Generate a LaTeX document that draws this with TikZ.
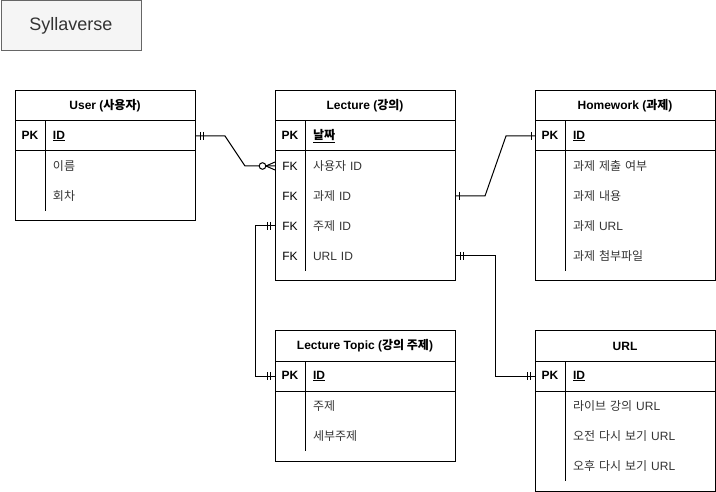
\documentclass[tikz,border=0pt]{standalone}
\usepackage{fontspec}
\setmainfont{Liberation Sans}
\newfontfamily\kr{Noto Sans CJK KR}
\usetikzlibrary{positioning}

\definecolor{boxgray}{HTML}{F5F5F5}
\definecolor{boxline}{HTML}{666666}
\definecolor{boxtext}{HTML}{333333}

\newcommand{\erow}[2]{\makebox[30pt]{\color{black}#1}\hspace{8pt}#2}

\tikzset{
  titlebox/.style={draw=boxline, fill=boxgray, text=boxtext, line width=1pt,
    minimum width=140pt, minimum height=50pt, anchor=north west,
    font=\fontsize{18}{21}\selectfont},
  head/.style={draw, line width=1pt, minimum width=180pt, minimum height=30pt,
    inner sep=0pt, outer sep=0pt, anchor=north west,
    font=\fontsize{12}{14}\selectfont\bfseries},
  row/.style={minimum height=30pt, text width=180pt, inner sep=0pt, outer sep=0pt,
    align=left, text=black!80, font=\fontsize{12}{14}\selectfont},
  pkrow/.style={row, draw, line width=1pt, text=black, font=\fontsize{12}{14}\selectfont\bfseries},
  body/.style={draw, line width=1pt, minimum width=180pt, inner sep=0pt, outer sep=0pt},
  rel/.style={line width=1pt},
}

\begin{document}
\begin{tikzpicture}[x=1pt, y=-1pt]
\useasboundingbox (0,0) rectangle (716,492);

\node[titlebox] (title) at (0.5,0.5) {Syllaverse};

% User
\node[head] (user) at (15,91) {User ({\kr 사용자})};
\node[pkrow, below=0pt of user] (user-pk) {\erow{PK}{\underline{ID}}};
\node[body, minimum height=70pt, below=0pt of user-pk] (user-body) {};
\node[row, below=0pt of user-pk] (user-1) {\erow{}{\kr 이름}};
\node[row, below=0pt of user-1] (user-2) {\erow{}{\kr 회차}};
\draw[rel] ([xshift=30pt]user-pk.north west) -- ++(0,90);

% Lecture
\node[head] (lec) at (275,91) {Lecture ({\kr 강의})};
\node[pkrow, below=0pt of lec] (lec-pk) {\erow{PK}{\underline{\kr 날짜}}};
\node[body, minimum height=130pt, below=0pt of lec-pk] (lec-body) {};
\node[row, below=0pt of lec-pk] (lec-1) {\erow{FK}{{\kr 사용자} ID}};
\node[row, below=0pt of lec-1] (lec-2) {\erow{FK}{{\kr 과제} ID}};
\node[row, below=0pt of lec-2] (lec-3) {\erow{FK}{{\kr 주제} ID}};
\node[row, below=0pt of lec-3] (lec-4) {\erow{FK}{URL ID}};
\draw[rel] ([xshift=30pt]lec-pk.north west) -- ++(0,150);

% Homework
\node[head] (hw) at (535,91) {Homework ({\kr 과제})};
\node[pkrow, below=0pt of hw] (hw-pk) {\erow{PK}{\underline{ID}}};
\node[body, minimum height=130pt, below=0pt of hw-pk] (hw-body) {};
\node[row, below=0pt of hw-pk] (hw-1) {\erow{}{\kr 과제 제출 여부}};
\node[row, below=0pt of hw-1] (hw-2) {\erow{}{\kr 과제 내용}};
\node[row, below=0pt of hw-2] (hw-3) {\erow{}{{\kr 과제} URL}};
\node[row, below=0pt of hw-3] (hw-4) {\erow{}{\kr 과제 첨부파일}};
\draw[rel] ([xshift=30pt]hw-pk.north west) -- ++(0,150);

% Lecture Topic
\node[head] (top) at (275,331) {Lecture Topic ({\kr 강의 주제})};
\node[pkrow, below=0pt of top] (top-pk) {\erow{PK}{\underline{ID}}};
\node[body, minimum height=70pt, below=0pt of top-pk] (top-body) {};
\node[row, below=0pt of top-pk] (top-1) {\erow{}{\kr 주제}};
\node[row, below=0pt of top-1] (top-2) {\erow{}{\kr 세부주제}};
\draw[rel] ([xshift=30pt]top-pk.north west) -- ++(0,90);

% URL
\node[head] (url) at (535,331) {URL};
\node[pkrow, below=0pt of url] (url-pk) {\erow{PK}{\underline{ID}}};
\node[body, minimum height=100pt, below=0pt of url-pk] (url-body) {};
\node[row, below=0pt of url-pk] (url-1) {\erow{}{{\kr 라이브 강의} URL}};
\node[row, below=0pt of url-1] (url-2) {\erow{}{{\kr 오전 다시 보기} URL}};
\node[row, below=0pt of url-2] (url-3) {\erow{}{{\kr 오후 다시 보기} URL}};
\draw[rel] ([xshift=30pt]url-pk.north west) -- ++(0,120);

% relations
\draw[rel] (user-pk.east) -- ++(30,0) -- ([xshift=-30pt]lec-1.west) -- (lec-1.west);
\draw[rel] ([xshift=5pt]user-pk.east) ++(0,-4) -- ++(0,8);
\draw[rel] ([xshift=8pt]user-pk.east) ++(0,-4) -- ++(0,8);
\draw[rel] ([xshift=-9pt]lec-1.west) -- ++(9,-4);
\draw[rel] ([xshift=-9pt]lec-1.west) -- ++(9,4);
\draw[rel, fill=white] ([xshift=-12.5pt]lec-1.west) circle (3.3pt);

\draw[rel] (lec-2.east) -- ++(30,0) -- ([xshift=-29pt]hw-pk.west) -- (hw-pk.west);
\draw[rel] ([xshift=4pt]lec-2.east) ++(0,-4) -- ++(0,8);
\draw[rel] ([xshift=-4pt]hw-pk.west) ++(0,-4) -- ++(0,8);

\draw[rel] (lec-3.west) -- ++(-20,0) |- (top-pk.west);
\draw[rel] ([xshift=-5pt]lec-3.west) ++(0,-4) -- ++(0,8);
\draw[rel] ([xshift=-8pt]lec-3.west) ++(0,-4) -- ++(0,8);
\draw[rel] ([xshift=-5pt]top-pk.west) ++(0,-4) -- ++(0,8);
\draw[rel] ([xshift=-8pt]top-pk.west) ++(0,-4) -- ++(0,8);

\draw[rel] (lec-4.east) -- ++(40,0) |- (url-pk.west);
\draw[rel] ([xshift=5pt]lec-4.east) ++(0,-4) -- ++(0,8);
\draw[rel] ([xshift=8pt]lec-4.east) ++(0,-4) -- ++(0,8);
\draw[rel] ([xshift=-5pt]url-pk.west) ++(0,-4) -- ++(0,8);
\draw[rel] ([xshift=-8pt]url-pk.west) ++(0,-4) -- ++(0,8);
\end{tikzpicture}
\end{document}
